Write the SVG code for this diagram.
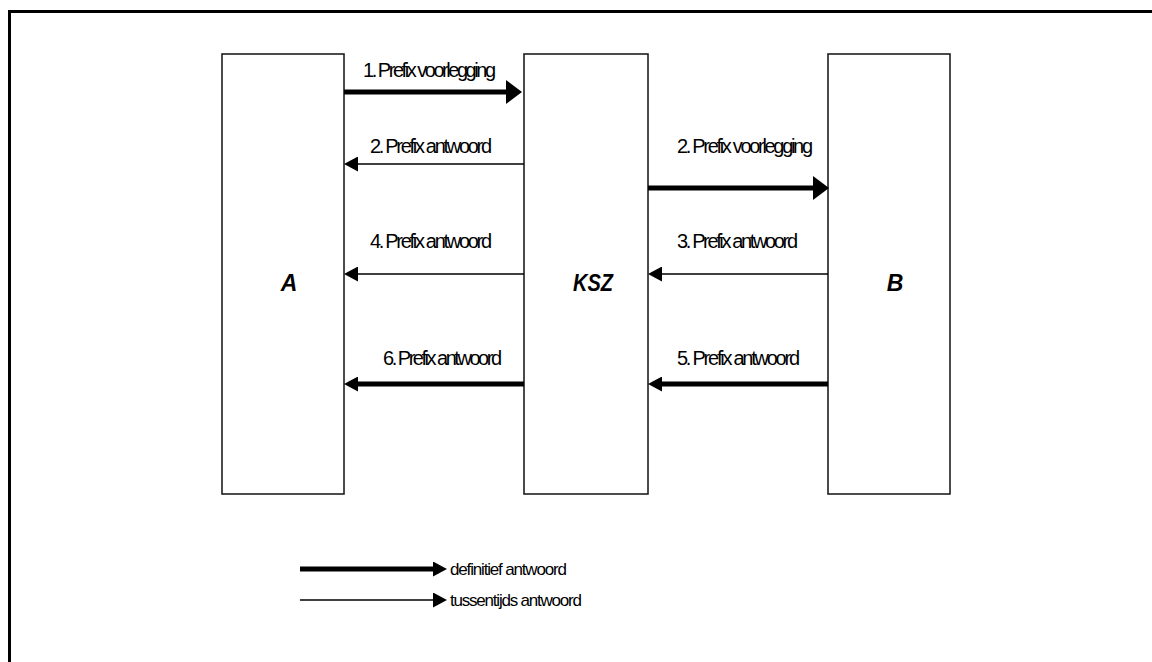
<svg xmlns="http://www.w3.org/2000/svg" width="1152" height="662" viewBox="0 0 1152 662">
<style>
.box{fill:#fff;stroke:#111;stroke-width:1.5}
.lbl{font-family:"Liberation Sans",Arial,sans-serif;font-size:20px;fill:#000}
.node{font-family:"Liberation Sans",Arial,sans-serif;font-size:23px;font-weight:bold;font-style:italic;fill:#000}
.leg{font-family:"Liberation Sans",Arial,sans-serif;font-size:17px;fill:#000}
.thick{stroke:#000;stroke-width:5;fill:none}
.thin{stroke:#000;stroke-width:1.5;fill:none}
</style>
<defs>
<marker id="big" markerUnits="userSpaceOnUse" markerWidth="16" markerHeight="24" refX="0" refY="12" orient="auto" viewBox="0 0 16 24"><path d="M0,0 L16,12 L0,24 z" fill="#000"/></marker>
<marker id="small" markerUnits="userSpaceOnUse" markerWidth="14" markerHeight="15" refX="0" refY="7.5" orient="auto" viewBox="0 0 14 15"><path d="M0,0 L14,7.5 L0,15 z" fill="#000"/></marker>
</defs>
<rect width="1152" height="662" fill="#fff"/>
<path d="M9.5,662 V11.5 H1152" fill="none" stroke="#000" stroke-width="3"/>
<g id="node-A"><rect class="box" x="222" y="54" width="122" height="440"/><text class="node" x="289" y="291" text-anchor="middle">A</text></g>
<g id="node-KSZ"><rect class="box" x="524" y="54" width="124" height="440"/><text class="node" x="573" y="291" textLength="40" lengthAdjust="spacingAndGlyphs">KSZ</text></g>
<g id="node-B"><rect class="box" x="828" y="54" width="122" height="440"/><text class="node" x="895" y="291" text-anchor="middle">B</text></g>
<g id="connectors">
<line class="thick" x1="344" y1="92" x2="506" y2="92" marker-end="url(#big)"/>
<text class="lbl" x="363" y="77" textLength="133" lengthAdjust="spacing">1. Prefix voorlegging</text>
<line class="thin" x1="524" y1="164" x2="358" y2="164" marker-end="url(#small)"/>
<text class="lbl" x="370" y="153" textLength="122" lengthAdjust="spacing">2. Prefix antwoord</text>
<line class="thick" x1="648" y1="188" x2="813" y2="188" marker-end="url(#big)"/>
<text class="lbl" x="677" y="153" textLength="136" lengthAdjust="spacing">2. Prefix voorlegging</text>
<line class="thin" x1="524" y1="274" x2="358" y2="274" marker-end="url(#small)"/>
<text class="lbl" x="370" y="248" textLength="122" lengthAdjust="spacing">4. Prefix antwoord</text>
<line class="thin" x1="828" y1="274" x2="662" y2="274" marker-end="url(#small)"/>
<text class="lbl" x="677" y="248" textLength="121" lengthAdjust="spacing">3. Prefix antwoord</text>
<line class="thick" x1="524" y1="384" x2="358" y2="384" marker-end="url(#small)"/>
<text class="lbl" x="383" y="365" textLength="119" lengthAdjust="spacing">6. Prefix antwoord</text>
<line class="thick" x1="828" y1="384" x2="662" y2="384" marker-end="url(#small)"/>
<text class="lbl" x="677" y="365" textLength="123" lengthAdjust="spacing">5. Prefix antwoord</text>
</g>
<g id="legend">
<line class="thick" x1="300" y1="569" x2="433" y2="569" marker-end="url(#small)"/>
<text class="leg" x="450" y="575" textLength="117" lengthAdjust="spacing">definitief antwoord</text>
<line class="thin" x1="300" y1="600" x2="433" y2="600" marker-end="url(#small)"/>
<text class="leg" x="450" y="606" textLength="132" lengthAdjust="spacing">tussentijds antwoord</text>
</g>
</svg>
